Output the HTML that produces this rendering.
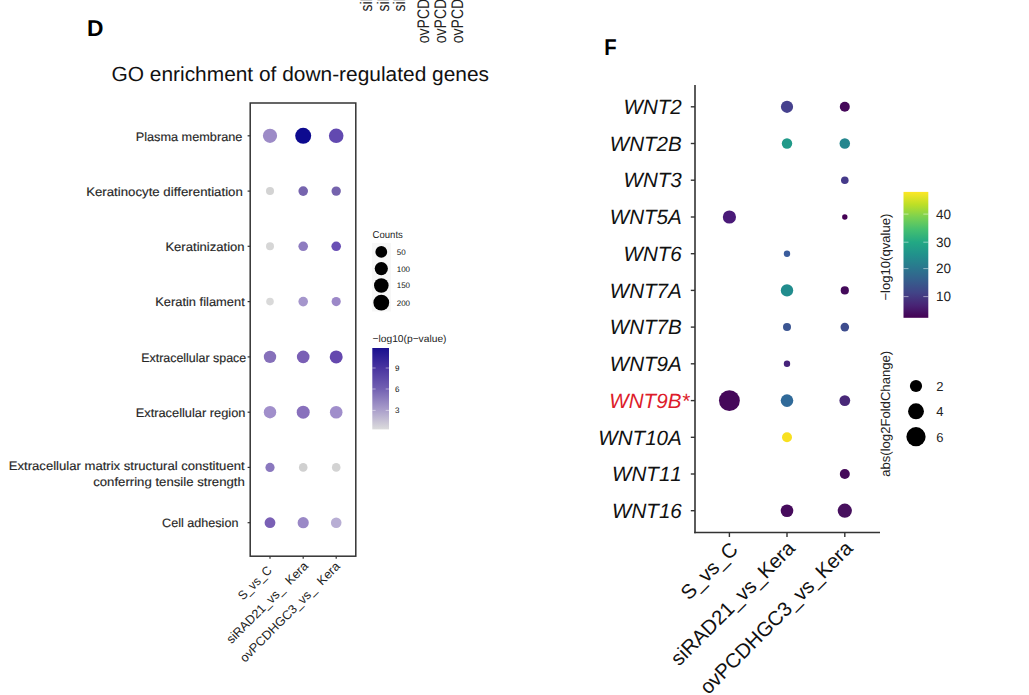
<!DOCTYPE html>
<html><head><meta charset="utf-8"><title>GO enrichment / WNT dotplot</title>
<style>
html,body{margin:0;padding:0;background:#fff;width:1029px;height:695px;overflow:hidden}
svg{display:block;font-family:"Liberation Sans", sans-serif}
text{font-kerning:none;text-rendering:geometricPrecision}
</style></head><body>
<svg width="1029" height="695" viewBox="0 0 1029 695">
<defs>
<linearGradient id="gD" x1="0" y1="1" x2="0" y2="0">
<stop offset="0" stop-color="#DCDCDC"/>
<stop offset="0.25" stop-color="#A89CCA"/>
<stop offset="0.5" stop-color="#7260B2"/>
<stop offset="0.75" stop-color="#4A35A0"/>
<stop offset="1" stop-color="#1A0F8F"/>
</linearGradient>
<linearGradient id="gF" x1="0" y1="1" x2="0" y2="0">
<stop offset="0" stop-color="#440154"/>
<stop offset="0.1" stop-color="#482475"/>
<stop offset="0.2" stop-color="#414487"/>
<stop offset="0.3" stop-color="#355F8D"/>
<stop offset="0.4" stop-color="#2A788E"/>
<stop offset="0.5" stop-color="#21918C"/>
<stop offset="0.6" stop-color="#22A884"/>
<stop offset="0.7" stop-color="#44BF70"/>
<stop offset="0.8" stop-color="#7AD151"/>
<stop offset="0.9" stop-color="#BDDF26"/>
<stop offset="1" stop-color="#FDE725"/>
</linearGradient>
</defs>

<text transform="translate(371.9,11.6) rotate(-90) scale(0.833,1)" font-size="16.8" fill="#222">siRAD21_vs_Kera</text>
<text transform="translate(388.6,11.6) rotate(-90) scale(0.833,1)" font-size="16.8" fill="#222">siRAD21_vs_Kera</text>
<text transform="translate(405.3,11.6) rotate(-90) scale(0.833,1)" font-size="16.8" fill="#222">siRAD21_vs_Kera</text>
<text transform="translate(429.1,43.2) rotate(-90) scale(0.833,1)" font-size="16.8" fill="#222">ovPCDHGC3_vs_Kera</text>
<text transform="translate(445.95,43.2) rotate(-90) scale(0.833,1)" font-size="16.8" fill="#222">ovPCDHGC3_vs_Kera</text>
<text transform="translate(462.8,43.2) rotate(-90) scale(0.833,1)" font-size="16.8" fill="#222">ovPCDHGC3_vs_Kera</text>
<text x="86.9" y="36.2" font-size="22.8" text-anchor="start" fill="#000" font-weight="bold">D</text>
<text x="111.5" y="80.7" font-size="20.4" text-anchor="start" fill="#111" textLength="377.5" lengthAdjust="spacingAndGlyphs">GO enrichment of down-regulated genes</text>
<rect x="250.2" y="103" width="105.6" height="453.2" fill="none" stroke="#333" stroke-width="1.5"/>
<line x1="247.6" y1="135.8" x2="250.2" y2="135.8" stroke="#333" stroke-width="1.2"/>
<circle cx="270.0" cy="135.8" r="7.1" fill="#9D8BC7"/>
<circle cx="303.2" cy="135.8" r="8.0" fill="#0D0A8F"/>
<circle cx="336.2" cy="135.8" r="7.3" fill="#6249B0"/>
<line x1="247.6" y1="191.1" x2="250.2" y2="191.1" stroke="#333" stroke-width="1.2"/>
<circle cx="270.0" cy="191.1" r="4.0" fill="#D3D3D3"/>
<circle cx="303.2" cy="191.1" r="4.8" fill="#7664AE"/>
<circle cx="336.2" cy="191.1" r="4.7" fill="#7563AD"/>
<line x1="247.6" y1="246.3" x2="250.2" y2="246.3" stroke="#333" stroke-width="1.2"/>
<circle cx="270.0" cy="246.3" r="4.0" fill="#D6D6D6"/>
<circle cx="303.2" cy="246.3" r="4.8" fill="#8E7CC0"/>
<circle cx="336.2" cy="246.3" r="4.8" fill="#6A50B5"/>
<line x1="247.6" y1="301.6" x2="250.2" y2="301.6" stroke="#333" stroke-width="1.2"/>
<circle cx="270.0" cy="301.6" r="3.8" fill="#D9D9D9"/>
<circle cx="303.2" cy="301.6" r="4.8" fill="#A596CC"/>
<circle cx="336.2" cy="301.6" r="4.6" fill="#9C88C8"/>
<line x1="247.6" y1="356.9" x2="250.2" y2="356.9" stroke="#333" stroke-width="1.2"/>
<circle cx="270.0" cy="356.9" r="6.2" fill="#8670BA"/>
<circle cx="303.2" cy="356.9" r="6.3" fill="#7A5FB5"/>
<circle cx="336.2" cy="356.9" r="6.5" fill="#6548AE"/>
<line x1="247.6" y1="412.2" x2="250.2" y2="412.2" stroke="#333" stroke-width="1.2"/>
<circle cx="270.0" cy="412.2" r="6.2" fill="#A18FCB"/>
<circle cx="303.2" cy="412.2" r="6.5" fill="#8870BC"/>
<circle cx="336.2" cy="412.2" r="6.3" fill="#A08ECB"/>
<line x1="247.6" y1="467.4" x2="250.2" y2="467.4" stroke="#333" stroke-width="1.2"/>
<circle cx="270.0" cy="467.4" r="4.6" fill="#8A78BE"/>
<circle cx="303.2" cy="467.4" r="4.3" fill="#D0D0D0"/>
<circle cx="336.2" cy="467.4" r="4.3" fill="#D3D3D3"/>
<line x1="247.6" y1="522.7" x2="250.2" y2="522.7" stroke="#333" stroke-width="1.2"/>
<circle cx="270.0" cy="522.7" r="5.4" fill="#7A60B5"/>
<circle cx="303.2" cy="522.7" r="5.6" fill="#9A88C6"/>
<circle cx="336.2" cy="522.7" r="5.3" fill="#B8AED4"/>
<line x1="270.0" y1="556.2" x2="270.0" y2="558.8" stroke="#333" stroke-width="1.2"/>
<line x1="303.2" y1="556.2" x2="303.2" y2="558.8" stroke="#333" stroke-width="1.2"/>
<line x1="336.2" y1="556.2" x2="336.2" y2="558.8" stroke="#333" stroke-width="1.2"/>
<text x="242.4" y="140.6" font-size="12.2" text-anchor="end" fill="#262626" textLength="106.7" lengthAdjust="spacingAndGlyphs" stroke="#262626" stroke-width="0.15">Plasma membrane</text>
<text x="242.8" y="195.7" font-size="12.2" text-anchor="end" fill="#262626" textLength="156.6" lengthAdjust="spacingAndGlyphs" stroke="#262626" stroke-width="0.15">Keratinocyte differentiation</text>
<text x="244.6" y="251.3" font-size="12.2" text-anchor="end" fill="#262626" textLength="79.2" lengthAdjust="spacingAndGlyphs" stroke="#262626" stroke-width="0.15">Keratinization</text>
<text x="244.8" y="306.1" font-size="12.2" text-anchor="end" fill="#262626" textLength="89.6" lengthAdjust="spacingAndGlyphs" stroke="#262626" stroke-width="0.15">Keratin filament</text>
<text x="246.2" y="361.9" font-size="12.2" text-anchor="end" fill="#262626" textLength="105.0" lengthAdjust="spacingAndGlyphs" stroke="#262626" stroke-width="0.15">Extracellular space</text>
<text x="245.5" y="417.0" font-size="12.2" text-anchor="end" fill="#262626" textLength="109.8" lengthAdjust="spacingAndGlyphs" stroke="#262626" stroke-width="0.15">Extracellular region</text>
<text x="244.6" y="470.4" font-size="12.2" text-anchor="end" fill="#262626" textLength="235.8" lengthAdjust="spacingAndGlyphs" stroke="#262626" stroke-width="0.15">Extracellular matrix structural constituent</text>
<text x="244.8" y="485.6" font-size="12.2" text-anchor="end" fill="#262626" textLength="151.6" lengthAdjust="spacingAndGlyphs" stroke="#262626" stroke-width="0.15">conferring tensile strength</text>
<text x="238.4" y="527.0" font-size="12.2" text-anchor="end" fill="#262626" textLength="76.3" lengthAdjust="spacingAndGlyphs" stroke="#262626" stroke-width="0.15">Cell adhesion</text>
<text transform="translate(272.6,571.1) rotate(-45)" font-size="12.5" text-anchor="end" fill="#222" textLength="42.0" lengthAdjust="spacingAndGlyphs">S_vs_C</text>
<text transform="translate(309,566.8) rotate(-45)" font-size="12.5" text-anchor="end" fill="#222" textLength="109.6" lengthAdjust="spacingAndGlyphs">siRAD21_vs_&#160;&#160;Kera</text>
<text transform="translate(340.8,567) rotate(-45)" font-size="12.5" text-anchor="end" fill="#222" textLength="135.6" lengthAdjust="spacingAndGlyphs">ovPCDHGC3_vs_&#160;&#160;Kera</text>
<text x="372.6" y="237.9" font-size="10" text-anchor="start" fill="#222" textLength="30.2" lengthAdjust="spacingAndGlyphs">Counts</text>
<rect x="372" y="243" width="19" height="68.5" fill="#F7F7F7"/>
<circle cx="381.3" cy="251.9" r="5.9" fill="#000"/>
<text x="396.7" y="254.8" font-size="8" text-anchor="start" fill="#111">50</text>
<circle cx="381.3" cy="268.6" r="6.6" fill="#000"/>
<text x="396.7" y="271.5" font-size="8" text-anchor="start" fill="#111">100</text>
<circle cx="381.3" cy="285.5" r="7.3" fill="#000"/>
<text x="396.7" y="288.4" font-size="8" text-anchor="start" fill="#111">150</text>
<circle cx="381.3" cy="302.7" r="7.9" fill="#000"/>
<text x="396.7" y="305.59999999999997" font-size="8" text-anchor="start" fill="#111">200</text>
<text x="372.5" y="341.6" font-size="10" text-anchor="start" fill="#222" textLength="74" lengthAdjust="spacingAndGlyphs">&#8722;log10(p&#8722;value)</text>
<rect x="372.3" y="348" width="16.7" height="81.4" fill="url(#gD)"/>
<line x1="372.3" y1="368" x2="375.6" y2="368" stroke="#fff" stroke-opacity="0.6" stroke-width="0.8"/>
<line x1="385.7" y1="368" x2="389" y2="368" stroke="#fff" stroke-opacity="0.6" stroke-width="0.8"/>
<text x="395.1" y="370.7" font-size="8" text-anchor="start" fill="#111">9</text>
<line x1="372.3" y1="389" x2="375.6" y2="389" stroke="#fff" stroke-opacity="0.6" stroke-width="0.8"/>
<line x1="385.7" y1="389" x2="389" y2="389" stroke="#fff" stroke-opacity="0.6" stroke-width="0.8"/>
<text x="395.1" y="391.7" font-size="8" text-anchor="start" fill="#111">6</text>
<line x1="372.3" y1="410.4" x2="375.6" y2="410.4" stroke="#fff" stroke-opacity="0.6" stroke-width="0.8"/>
<line x1="385.7" y1="410.4" x2="389" y2="410.4" stroke="#fff" stroke-opacity="0.6" stroke-width="0.8"/>
<text x="395.1" y="413.09999999999997" font-size="8" text-anchor="start" fill="#111">3</text>
<text x="604.3" y="54.9" font-size="22.9" text-anchor="start" fill="#000" font-weight="bold" textLength="12.4" lengthAdjust="spacingAndGlyphs" text-rendering="geometricPrecision">F</text>
<line x1="695" y1="85" x2="695" y2="533.3" stroke="#333" stroke-width="1.6"/>
<line x1="694.2" y1="532.5" x2="880" y2="532.5" stroke="#333" stroke-width="1.6"/>
<line x1="690.8" y1="106.8" x2="695" y2="106.8" stroke="#333" stroke-width="1.4"/>
<circle cx="787.0" cy="106.8" r="6.1" fill="#46418E"/>
<circle cx="844.8" cy="106.8" r="5.0" fill="#45085A"/>
<text x="681.8" y="114.0" font-size="20.6" text-anchor="end" fill="#111" font-style="italic">WNT2</text>
<line x1="690.8" y1="143.5" x2="695" y2="143.5" stroke="#333" stroke-width="1.4"/>
<circle cx="787.0" cy="143.5" r="5.2" fill="#219A89"/>
<circle cx="844.8" cy="143.5" r="5.25" fill="#24868E"/>
<text x="681.8" y="150.7" font-size="20.6" text-anchor="end" fill="#111" font-style="italic">WNT2B</text>
<line x1="690.8" y1="180.2" x2="695" y2="180.2" stroke="#333" stroke-width="1.4"/>
<circle cx="844.8" cy="180.2" r="3.8" fill="#453A8A"/>
<text x="681.8" y="187.4" font-size="20.6" text-anchor="end" fill="#111" font-style="italic">WNT3</text>
<line x1="690.8" y1="217.0" x2="695" y2="217.0" stroke="#333" stroke-width="1.4"/>
<circle cx="729.4" cy="217.0" r="6.6" fill="#4A1A78"/>
<circle cx="844.8" cy="217.0" r="2.7" fill="#440154"/>
<text x="681.8" y="224.2" font-size="20.6" text-anchor="end" fill="#111" font-style="italic">WNT5A</text>
<line x1="690.8" y1="253.7" x2="695" y2="253.7" stroke="#333" stroke-width="1.4"/>
<circle cx="787.0" cy="253.7" r="3.2" fill="#3A5C9C"/>
<text x="681.8" y="260.9" font-size="20.6" text-anchor="end" fill="#111" font-style="italic">WNT6</text>
<line x1="690.8" y1="290.4" x2="695" y2="290.4" stroke="#333" stroke-width="1.4"/>
<circle cx="787.0" cy="290.4" r="6.2" fill="#218C8D"/>
<circle cx="844.8" cy="290.4" r="4.1" fill="#43095A"/>
<text x="681.8" y="297.6" font-size="20.6" text-anchor="end" fill="#111" font-style="italic">WNT7A</text>
<line x1="690.8" y1="327.1" x2="695" y2="327.1" stroke="#333" stroke-width="1.4"/>
<circle cx="787.0" cy="327.1" r="4.0" fill="#3B5592"/>
<circle cx="844.8" cy="327.1" r="4.3" fill="#3E4D8E"/>
<text x="681.8" y="334.3" font-size="20.6" text-anchor="end" fill="#111" font-style="italic">WNT7B</text>
<line x1="690.8" y1="363.8" x2="695" y2="363.8" stroke="#333" stroke-width="1.4"/>
<circle cx="787.0" cy="363.8" r="3.2" fill="#46237A"/>
<text x="681.8" y="371.0" font-size="20.6" text-anchor="end" fill="#111" font-style="italic">WNT9A</text>
<line x1="690.8" y1="400.6" x2="695" y2="400.6" stroke="#333" stroke-width="1.4"/>
<circle cx="729.4" cy="400.6" r="10.45" fill="#45085A"/>
<circle cx="787.0" cy="400.6" r="6.3" fill="#306A99"/>
<circle cx="844.8" cy="400.6" r="5.4" fill="#482878"/>
<text x="689.4" y="407.8" font-size="20.6" font-style="italic" text-anchor="end" fill="#DD1C2B">WNT9B*</text>
<line x1="690.8" y1="437.3" x2="695" y2="437.3" stroke="#333" stroke-width="1.4"/>
<circle cx="787.0" cy="437.3" r="5.0" fill="#F8E020"/>
<text x="681.8" y="444.5" font-size="20.6" text-anchor="end" fill="#111" font-style="italic">WNT10A</text>
<line x1="690.8" y1="474.0" x2="695" y2="474.0" stroke="#333" stroke-width="1.4"/>
<circle cx="844.8" cy="474.0" r="5.0" fill="#45095A"/>
<text x="681.8" y="481.2" font-size="20.6" text-anchor="end" fill="#111" font-style="italic">WNT11</text>
<line x1="690.8" y1="510.7" x2="695" y2="510.7" stroke="#333" stroke-width="1.4"/>
<circle cx="787.0" cy="510.7" r="6.3" fill="#460B5C"/>
<circle cx="844.8" cy="510.7" r="7.1" fill="#47105E"/>
<text x="681.8" y="517.9" font-size="20.6" text-anchor="end" fill="#111" font-style="italic">WNT16</text>
<line x1="729.4" y1="532.5" x2="729.4" y2="537" stroke="#333" stroke-width="1.4"/>
<line x1="787.0" y1="532.5" x2="787.0" y2="537" stroke="#333" stroke-width="1.4"/>
<line x1="844.8" y1="532.5" x2="844.8" y2="537" stroke="#333" stroke-width="1.4"/>
<text transform="translate(739.1,550.7) rotate(-45)" font-size="20.3" text-anchor="end" fill="#111">S_vs_C</text>
<text transform="translate(796.2,549.5) rotate(-45)" font-size="20.3" text-anchor="end" fill="#111">siRAD21_vs_Kera</text>
<text transform="translate(854.0,549.5) rotate(-45)" font-size="20.3" text-anchor="end" fill="#111">ovPCDHGC3_vs_Kera</text>
<rect x="903.5" y="191.9" width="24.8" height="125.9" fill="url(#gF)"/>
<line x1="903.5" y1="214.1" x2="908.5" y2="214.1" stroke="#fff" stroke-opacity="0.55" stroke-width="0.9"/>
<line x1="923.3" y1="214.1" x2="928.3" y2="214.1" stroke="#fff" stroke-opacity="0.55" stroke-width="0.9"/>
<text x="936.0" y="218.95" font-size="13.5" text-anchor="start" fill="#222">40</text>
<line x1="903.5" y1="242.2" x2="908.5" y2="242.2" stroke="#fff" stroke-opacity="0.55" stroke-width="0.9"/>
<line x1="923.3" y1="242.2" x2="928.3" y2="242.2" stroke="#fff" stroke-opacity="0.55" stroke-width="0.9"/>
<text x="936.0" y="247.04999999999998" font-size="13.5" text-anchor="start" fill="#222">30</text>
<line x1="903.5" y1="268.6" x2="908.5" y2="268.6" stroke="#fff" stroke-opacity="0.55" stroke-width="0.9"/>
<line x1="923.3" y1="268.6" x2="928.3" y2="268.6" stroke="#fff" stroke-opacity="0.55" stroke-width="0.9"/>
<text x="936.0" y="273.45000000000005" font-size="13.5" text-anchor="start" fill="#222">20</text>
<line x1="903.5" y1="296.6" x2="908.5" y2="296.6" stroke="#fff" stroke-opacity="0.55" stroke-width="0.9"/>
<line x1="923.3" y1="296.6" x2="928.3" y2="296.6" stroke="#fff" stroke-opacity="0.55" stroke-width="0.9"/>
<text x="936.0" y="301.45000000000005" font-size="13.5" text-anchor="start" fill="#222">10</text>
<text transform="translate(890.0,300.6) rotate(-90)" font-size="13.1" fill="#222">&#8722;log10(qvalue)</text>
<text transform="translate(890.0,476.8) rotate(-90)" font-size="13.1" fill="#222">abs(log2FoldChange)</text>
<circle cx="916.0" cy="386.0" r="6.1" fill="#000"/>
<text x="936.2" y="390.8" font-size="13" text-anchor="start" fill="#222">2</text>
<circle cx="916.0" cy="411.3" r="7.95" fill="#000"/>
<text x="936.2" y="416.1" font-size="13" text-anchor="start" fill="#222">4</text>
<circle cx="916.0" cy="436.7" r="9.6" fill="#000"/>
<text x="936.2" y="441.5" font-size="13" text-anchor="start" fill="#222">6</text>
</svg></body></html>
